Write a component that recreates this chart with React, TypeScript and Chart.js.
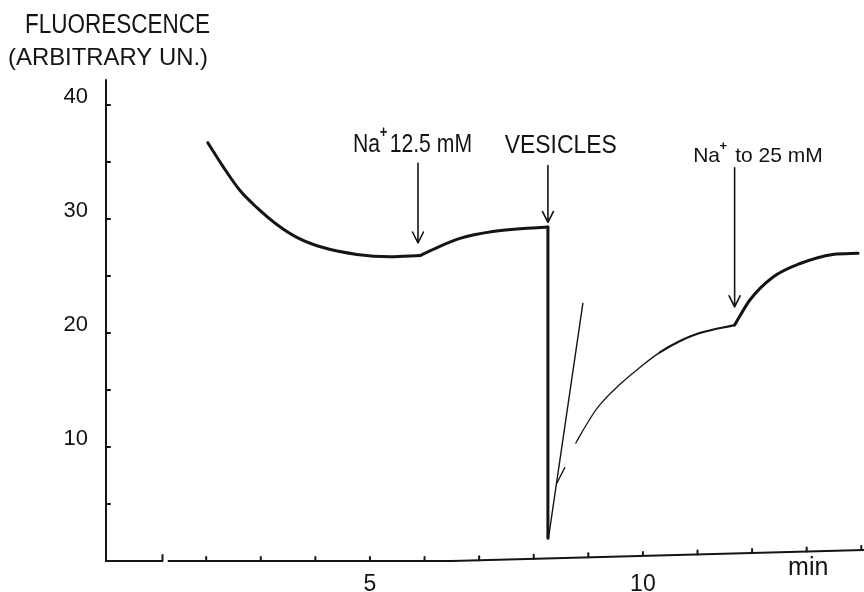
import { useEffect, useRef } from "react";
import { Chart, registerables } from "chart.js";

Chart.register(...registerables);

// ---- data (time in min, fluorescence in arbitrary units) ----
const descentT = [2.03, 2.31, 2.62, 2.93, 3.3, 3.66, 4.14, 4.76, 5.37, 5.92];
const descentF = [36.7, 34.6, 32.5, 31.0, 29.5, 28.4, 27.5, 26.9, 26.7, 26.8];
const na125T = [5.92, 6.23, 6.65, 7.25, 7.88, 8.26];
const na125F = [26.8, 27.5, 28.3, 28.9, 29.2, 29.3];
const dropT = [8.26, 8.26];
const dropF = [29.3, 2.0];
const tangentT = [8.27, 8.9];
const tangentF = [2.0, 22.6];
const earlyRecoveryT = [8.42, 8.57];
const earlyRecoveryF = [6.8, 8.2];
const recoveryT = [8.77, 8.97, 9.21, 9.58, 9.95, 10.31, 10.68, 11.04, 11.68];
const recoveryF = [10.35, 12.0, 13.7, 15.5, 17.0, 18.3, 19.3, 20.0, 20.7];
const na25T = [11.68, 11.96, 12.38, 12.88, 13.48, 13.94];
const na25F = [20.7, 22.9, 24.9, 26.1, 26.9, 27.0];

const yLabelled = [10, 20, 30, 40];
const yTickMarks = [5, 10, 15, 20, 25, 30, 35, 40];
const xLabelled = [5, 10];
const xTickMarks = [2, 3, 4, 5, 6, 7, 8, 9, 10, 11, 12, 13, 14];

const X_MIN = 0.165;
const X_MAX = 14.05;
const Y_MAX = 42.2;
const AXIS_BREAK = [1.2, 1.31];
const THICKER_FROM = 10.1;

const notes = [
  { arrowT: 5.88, top: 34.9, tip: 27.9, labelT: 4.69, labelF: 35.9, head: "Na", tail: "12.5 mM", size: 26, width: 119 },
  { arrowT: 8.26, top: 34.7, tip: 29.7, labelT: 7.47, labelF: 35.8, head: "VESICLES", tail: "", size: 25, width: 112 },
  { arrowT: 11.68, top: 34.5, tip: 22.3, labelT: 10.92, labelF: 35.0, head: "Na", tail: " to 25 mM", size: 21, width: 137 },
];

const INK = "#141414";
const FONT = "'Liberation Sans', Arial, sans-serif";

const pts = (t: number[], f: number[]) => t.map((v, i) => ({ x: v, y: f[i] }));

function ds(t: number[], f: number[], width: number, smooth: boolean, extra: any = {}) {
  return {
    data: pts(t, f),
    borderColor: INK,
    borderWidth: width,
    pointRadius: 0,
    fill: false,
    tension: 0,
    cubicInterpolationMode: smooth ? ("monotone" as const) : ("default" as const),
    borderCapStyle: "round" as const,
    borderJoinStyle: "round" as const,
    ...extra,
  };
}

function squeezedText(ctx: CanvasRenderingContext2D, text: string, x: number, y: number, size: number, width: number) {
  ctx.save();
  ctx.font = `${size}px ${FONT}`;
  const w = ctx.measureText(text).width;
  const k = Math.min(1, width / w);
  ctx.translate(x, y);
  ctx.scale(k, 1);
  ctx.fillText(text, 0, 0);
  ctx.restore();
}

const decor = {
  id: "decor",
  afterDatasetsDraw(chart: any) {
    const { ctx, chartArea } = chart;
    const xs = chart.scales.x;
    const ys = chart.scales.y;
    ctx.save();
    ctx.strokeStyle = INK;
    ctx.fillStyle = INK;
    ctx.lineCap = "round";
    ctx.lineJoin = "round";

    const x0 = chartArea.left;
    const yb = ys.getPixelForValue(0);

    // y axis
    ctx.lineWidth = 2;
    ctx.beginPath();
    ctx.moveTo(x0, chartArea.top);
    ctx.lineTo(x0, yb);
    ctx.stroke();
    for (const v of yTickMarks) {
      const py = ys.getPixelForValue(v);
      ctx.beginPath();
      ctx.moveTo(x0, py);
      ctx.lineTo(x0 + 4, py);
      ctx.stroke();
    }

    // x axis, with break and slight rise at right
    const b1 = xs.getPixelForValue(AXIS_BREAK[0]);
    const b2 = xs.getPixelForValue(AXIS_BREAK[1]);
    ctx.beginPath();
    ctx.moveTo(x0, yb);
    ctx.lineTo(b1, yb);
    ctx.lineTo(b1, yb - 6);
    ctx.stroke();
    const bend = xs.getPixelForValue(6.5);
    const right = chartArea.right;
    const axisY = (px: number) => (px < bend ? yb : yb - ((px - bend) / (right - bend)) * 11);
    ctx.beginPath();
    ctx.moveTo(b2, yb);
    ctx.lineTo(bend, yb);
    ctx.lineTo(right, axisY(right));
    ctx.stroke();
    for (const t of xTickMarks) {
      const px = xs.getPixelForValue(t);
      const py = axisY(px);
      ctx.beginPath();
      ctx.moveTo(px, py);
      ctx.lineTo(px, py - 4);
      ctx.stroke();
    }

    // "min" unit
    ctx.font = `25px ${FONT}`;
    ctx.textBaseline = "alphabetic";
    ctx.textAlign = "left";
    ctx.fillText("min", xs.getPixelForValue(12.66), yb + 14);

    // arrows and labels
    for (const n of notes) {
      const ax = xs.getPixelForValue(n.arrowT);
      const top = ys.getPixelForValue(n.top);
      const tip = ys.getPixelForValue(n.tip);
      ctx.lineWidth = 1.6;
      ctx.beginPath();
      ctx.moveTo(ax, top);
      ctx.lineTo(ax, tip);
      ctx.moveTo(ax - 5.5, tip - 11);
      ctx.lineTo(ax, tip);
      ctx.lineTo(ax + 5.5, tip - 11);
      ctx.stroke();

      const lx = xs.getPixelForValue(n.labelT);
      const ly = ys.getPixelForValue(n.labelF);
      if (!n.tail) {
        squeezedText(ctx, n.head, lx, ly, n.size, n.width);
      } else {
        ctx.save();
        ctx.font = `${n.size}px ${FONT}`;
        const wHead = ctx.measureText(n.head).width;
        const wTail = ctx.measureText(n.tail).width;
        const plusW = n.size * 0.45;
        const total = wHead + plusW + wTail;
        const k = Math.min(1, n.width / total);
        ctx.translate(lx, ly);
        ctx.scale(k, 1);
        ctx.fillText(n.head, 0, 0);
        ctx.fillText(n.tail, wHead + plusW, 0);
        ctx.font = `bold ${Math.round(n.size * 0.62)}px ${FONT}`;
        ctx.textAlign = "center";
        ctx.fillText("+", wHead + plusW * 0.35, -n.size * 0.58);
        ctx.restore();
      }
    }

    // y axis title
    squeezedText(ctx, "FLUORESCENCE", 25, 33, 27, 185);
    squeezedText(ctx, "(ARBITRARY UN.)", 8, 65, 24, 200);

    ctx.restore();
  },
};

export default function App() {
  const ref = useRef<HTMLCanvasElement | null>(null);

  useEffect(() => {
    if (!ref.current) return;
    const chart = new Chart(ref.current, {
      type: "line",
      data: {
        datasets: [
          ds(descentT, descentF, 3, true),
          ds(na125T, na125F, 3, true),
          ds(dropT, dropF, 3, false),
          ds(tangentT, tangentF, 1.4, false),
          ds(earlyRecoveryT, earlyRecoveryF, 1.4, false),
          ds(recoveryT, recoveryF, 1.3, false, {
            tension: 0.4,
            segment: {
              borderWidth: (c: any) => (c.p0.parsed.x >= THICKER_FROM ? 2.2 : 1.3),
            },
          }),
          ds(na25T, na25F, 3, true),
        ] as any,
      },
      options: {
        animation: false,
        responsive: false,
        devicePixelRatio: 1,
        layout: { padding: { top: 80, right: 0, left: 0, bottom: 0 } },
        plugins: { legend: { display: false }, tooltip: { enabled: false } },
        scales: {
          x: {
            type: "linear",
            min: X_MIN,
            max: X_MAX,
            grid: { display: false, drawTicks: false },
            border: { display: false },
            ticks: {
              stepSize: 1,
              padding: 10,
              autoSkip: false,
              maxRotation: 0,
              color: INK,
              font: { family: FONT, size: 23 },
              callback: (v: any) => (xLabelled.includes(Number(v)) ? String(v) : ""),
            },
            afterFit: (s: any) => {
              s.height = 31;
              s.paddingLeft = 0;
              s.paddingRight = 0;
            },
          },
          y: {
            type: "linear",
            min: 0,
            max: Y_MAX,
            grid: { display: false, drawTicks: false },
            border: { display: false },
            ticks: {
              stepSize: 10,
              padding: 18,
              labelOffset: -8,
              color: INK,
              font: { family: FONT, size: 22 },
              callback: (v: any) => (yLabelled.includes(Number(v)) ? String(v) : ""),
            },
            afterFit: (s: any) => {
              s.width = 106;
              s.paddingTop = 0;
              s.paddingBottom = 0;
            },
          },
        },
      },
      plugins: [decor],
    });
    return () => chart.destroy();
  }, []);

  return (
    <div style={{ position: "fixed", left: 0, top: 0, width: 864, height: 592, background: "#fff" }}>
      <canvas ref={ref} width={864} height={592} style={{ width: 864, height: 592, display: "block" }} />
    </div>
  );
}
